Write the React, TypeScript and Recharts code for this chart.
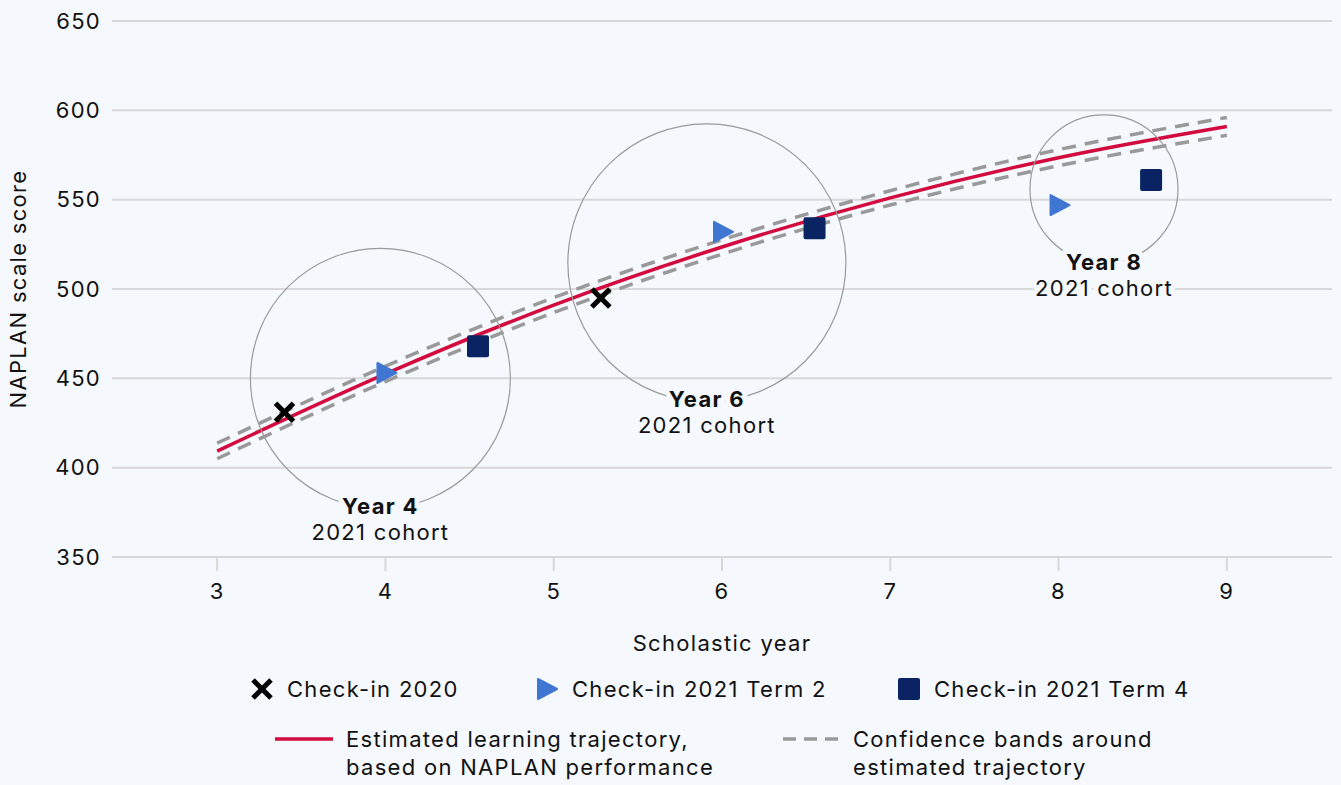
import {
  ComposedChart,
  Line,
  Scatter,
  XAxis,
  YAxis,
  CartesianGrid,
  ReferenceDot,
} from "recharts";

// Scholastic year vs NAPLAN scale score
const years = [3, 4, 5, 6, 7, 8, 9];
const estimate = [409.3, 452.5, 491, 523.5, 551, 573.5, 591];
const upperBand = [413.7, 456.8, 495.2, 527.5, 555, 578, 596];
const lowerBand = [405, 448.2, 486.8, 519.5, 547, 569, 586];

const checkin2020 = [
  { x: 3.4, y: 431 },
  { x: 5.28, y: 495 },
];
const checkin2021T2 = [
  { x: 4.0, y: 453 },
  { x: 6.0, y: 532 },
  { x: 8.0, y: 547 },
];
const checkin2021T4 = [
  { x: 4.55, y: 468 },
  { x: 6.55, y: 534 },
  { x: 8.55, y: 561 },
];

const yTicks = [350, 400, 450, 500, 550, 600, 650];
const xTicks = [3, 4, 5, 6, 7, 8, 9];

// cohort circles: centre (year, score) + radius in px
const cohorts = [
  { name: "Year 4", x: 3.97, y: 450, r: 130, labelY: 378.6 },
  { name: "Year 6", x: 5.91, y: 514.6, r: 139, labelY: 438.5 },
  { name: "Year 8", x: 8.27, y: 556, r: 74, labelY: 515.1 },
];

const trajectory = years.map((x, i) => ({
  x,
  est: estimate[i],
  upper: upperBand[i],
  lower: lowerBand[i],
}));

const BG = "#f5f8fc";
const FONT = "Inter, 'Noto Sans', sans-serif";
const SPACING = 1.3;
const RED = "#d20a3e";
const BLUE = "#3f76d1";
const NAVY = "#0a2463";
const DASH = "#999999";

const textStyle = { fill: "#111", fontSize: 22, fontFamily: FONT, letterSpacing: SPACING };

const CrossShape = ({ cx, cy }: any) => (
  <g stroke="#000" strokeWidth={5}>
    <line x1={cx - 9} y1={cy - 9} x2={cx + 9} y2={cy + 9} />
    <line x1={cx - 9} y1={cy + 9} x2={cx + 9} y2={cy - 9} />
  </g>
);

const TriangleShape = ({ cx, cy }: any) => (
  <polygon
    points={`${cx - 8},${cy - 10} ${cx + 11},${cy} ${cx - 8},${cy + 10}`}
    fill={BLUE}
    stroke={BLUE}
    strokeWidth={2}
    strokeLinejoin="round"
  />
);

const SquareShape = ({ cx, cy }: any) => (
  <rect x={cx - 11} y={cy - 11} width={22} height={22} rx={2} fill={NAVY} />
);

const cohortLabel = (name: string) => (props: any) => {
  const { cx, cy } = props;
  const halo = { stroke: BG, strokeWidth: 10, paintOrder: "stroke" as any, strokeLinejoin: "round" as any };
  return (
    <g fontFamily={FONT} fontSize={22} textAnchor="middle" fill="#111" letterSpacing={SPACING}>
      <text x={cx} y={cy} dy="0.35em" fontWeight={700} {...halo}>
        {name}
      </text>
      <text x={cx} y={cy + 26} dy="0.35em" {...halo}>
        2021 cohort
      </text>
    </g>
  );
};

function LegendItem({ left, top, icon, lines }: any) {
  return (
    <div style={{ position: "absolute", left, top, display: "flex", alignItems: "flex-start" }}>
      {icon}
      <div style={{ lineHeight: "28px", whiteSpace: "nowrap" }}>
        {lines.map((l: string) => (
          <div key={l}>{l}</div>
        ))}
      </div>
    </div>
  );
}

export default function App() {
  return (
    <div
      style={{
        position: "fixed",
        left: 0,
        top: 0,
        width: 1341,
        height: 785,
        background: BG,
        fontFamily: FONT,
        color: "#111",
        fontSize: 22,
        letterSpacing: SPACING,
      }}
    >
      <ComposedChart
        width={1341}
        height={785}
        data={trajectory}
        margin={{ top: 21, right: 9, bottom: 128, left: 0 }}
      >
        <CartesianGrid horizontal vertical={false} stroke="#d8d8d8" strokeWidth={2} />
        <XAxis
          dataKey="x"
          type="number"
          domain={[2.375, 9.625]}
          ticks={xTicks}
          height={100}
          axisLine={false}
          tickLine={{ stroke: "#d8d8d8", strokeWidth: 2 }}
          tickSize={14}
          tickMargin={12}
          tick={textStyle}
          label={{
            value: "Scholastic year",
            position: "insideBottom",
            offset: 6,
            style: textStyle,
          }}
        />
        <YAxis
          type="number"
          domain={[350, 650]}
          ticks={yTicks}
          width={112}
          axisLine={false}
          tickLine={false}
          tickSize={0}
          tickMargin={11}
          tick={textStyle}
          label={{
            value: "NAPLAN scale score",
            angle: -90,
            position: "insideLeft",
            offset: 18,
            style: { ...textStyle, textAnchor: "middle" },
          }}
        />

        {cohorts.map((c) => (
          <ReferenceDot
            key={c.name + "-circle"}
            x={c.x}
            y={c.y}
            r={c.r}
            fill="none"
            stroke="#9a9a9a"
            strokeWidth={1.2}
          />
        ))}

        <Line
          dataKey="upper"
          type="monotone"
          stroke={DASH}
          strokeWidth={3.5}
          strokeDasharray="14 9"
          dot={false}
          isAnimationActive={false}
        />
        <Line
          dataKey="lower"
          type="monotone"
          stroke={DASH}
          strokeWidth={3.5}
          strokeDasharray="14 9"
          dot={false}
          isAnimationActive={false}
        />
        <Line
          dataKey="est"
          type="monotone"
          stroke={RED}
          strokeWidth={3.5}
          dot={false}
          isAnimationActive={false}
        />

        <Scatter data={checkin2020} dataKey="y" shape={CrossShape} isAnimationActive={false} />
        <Scatter data={checkin2021T2} dataKey="y" shape={TriangleShape} isAnimationActive={false} />
        <Scatter data={checkin2021T4} dataKey="y" shape={SquareShape} isAnimationActive={false} />

        {cohorts.map((c) => (
          <ReferenceDot
            key={c.name + "-label"}
            x={c.x}
            y={c.labelY}
            r={1}
            shape={cohortLabel(c.name)}
          />
        ))}
      </ComposedChart>

      {/* legend */}
      <LegendItem
        left={251}
        top={675}
        lines={["Check-in 2020"]}
        icon={
          <svg width={36} height={28}>
            <CrossShape cx={11} cy={14} />
          </svg>
        }
      />
      <LegendItem
        left={536}
        top={675}
        lines={["Check-in 2021 Term 2"]}
        icon={
          <svg width={36} height={28}>
            <TriangleShape cx={10} cy={14} />
          </svg>
        }
      />
      <LegendItem
        left={898}
        top={675}
        lines={["Check-in 2021 Term 4"]}
        icon={
          <svg width={36} height={28}>
            <SquareShape cx={11} cy={14} />
          </svg>
        }
      />
      <LegendItem
        left={275}
        top={725}
        lines={["Estimated learning trajectory,", "based on NAPLAN performance"]}
        icon={
          <svg width={71} height={28}>
            <line x1={0} y1={14} x2={58} y2={14} stroke={RED} strokeWidth={3.5} />
          </svg>
        }
      />
      <LegendItem
        left={783}
        top={725}
        lines={["Confidence bands around", "estimated trajectory"]}
        icon={
          <svg width={70} height={28}>
            <line x1={0} y1={14} x2={59} y2={14} stroke={DASH} strokeWidth={3.5} strokeDasharray="13 8" />
          </svg>
        }
      />
    </div>
  );
}
